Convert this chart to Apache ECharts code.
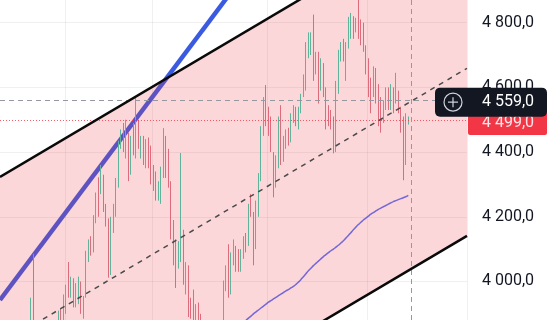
<!DOCTYPE html>
<html>
<head>
<meta charset="utf-8">
<script src="https://cdn.jsdelivr.net/npm/echarts@6/dist/echarts.min.js"></script>
<style>
html,body{margin:0;padding:0;background:#fff;}
#main{width:550px;height:320px;}
</style>
</head>
<body>
<div id="main"></div>
<script>
// ---- data ----
const slotCount = 187;
const categories = Array.from({length: slotCount}, (_, i) => String(i));
const gridCats = [26, 61, 107, 147];
const yTicks = [4000, 4200, 4400, 4600, 4800];
const yMin = 3881, yMax = 4870;

// [open, close, low, high]
const candles = [
[3800,3820,3790,3830],[3820,3810,3795,3835],[3810,3840,3800,3850],[3840,3825,3815,3855],
[3825,3850,3820,3860],[3850,3830,3820,3865],[3830,3800,3790,3840],[3800,3780,3770,3815],
[3780,3805,3775,3815],[3805,3790,3780,3820],[3790,3820,3785,3830],[3820,3840,3810,3850],
[3840,3940,3820,3950],[3940,3860,3850,4086],[3860,3820,3810,3870],[3820,3800,3790,3830],
[3800,3830,3790,3840],[3830,3810,3800,3845],[3810,3790,3780,3820],[3790,3815,3785,3825],
[3815,3835,3805,3845],[3835,3820,3810,3850],[3820,3845,3815,3860],[3840,3900,3830,3910],
[3900,3870,3860,3915],[3870,3940,3860,3960],[3910,3975,3900,3990],[4030,3965,3950,4060],
[3965,4000,3950,4015],[4000,3940,3920,4010],[3930,3985,3920,3995],[3945,4000,3930,4015],
[3990,3930,3900,4000],[3900,3950,3885,3955],[3960,4085,3950,4095],[4080,4120,4060,4130],
[4120,4090,4080,4140],[4100,4190,4090,4205],[4190,4250,4180,4275],[4310,4215,4200,4322],
[4280,4350,4270,4360],[4320,4225,4215,4330],[4225,4180,4170,4240],[4185,4030,4012,4195],
[4030,4180,4020,4200],[4170,4220,4150,4240],[4210,4300,4200,4320],[4300,4420,4290,4435],
[4420,4460,4410,4470],[4490,4420,4400,4490],[4420,4470,4380,4500],[4440,4330,4310,4460],
[4340,4440,4330,4450],[4480,4400,4390,4490],[4400,4500,4380,4571],[4490,4420,4410,4500],
[4400,4440,4380,4450],[4440,4370,4360,4450],[4370,4430,4350,4440],[4430,4390,4350,4445],
[4410,4320,4300,4420],[4350,4300,4280,4360],[4330,4260,4250,4340],[4260,4300,4250,4310],
[4300,4345,4240,4355],[4330,4450,4320,4474],[4440,4340,4320,4450],[4400,4300,4290,4410],
[4300,4140,4130,4310],[4180,4060,4050,4190],[4120,4000,3980,4130],[4050,4110,4040,4125],
[4075,4230,4060,4397],[4150,4010,3990,4160],[3990,4050,3960,4060],[4040,3910,3890,4050],
[3940,3900,3885,3950],[3960,3895,3880,3975],[3890,3920,3870,3930],[3925,3885,3875,3935],
[3890,3850,3840,3900],[3850,3820,3810,3865],[3820,3790,3780,3830],[3790,3760,3750,3800],
[3760,3780,3740,3790],[3780,3750,3740,3795],[3750,3790,3745,3800],[3790,3820,3780,3830],
[3820,3850,3810,3860],[3860,3990,3850,4003],[3990,4040,3970,4050],[4090,3970,3950,4115],
[3980,4080,3960,4090],[4060,4110,4050,4130],[4100,4050,4030,4110],[4090,4040,4030,4100],
[4045,4090,4030,4100],[4080,4130,4070,4140],[4140,4100,4090,4150],[4120,4230,4110,4240],
[4260,4210,4200,4270],[4210,4100,4050,4215],[4110,4230,4100,4250],[4220,4320,4200,4335],
[4320,4470,4310,4480],[4460,4550,4450,4570],[4560,4490,4480,4607],[4520,4460,4450,4540],
[4500,4410,4400,4510],[4380,4290,4260,4400],[4300,4380,4290,4390],[4370,4500,4350,4510],
[4520,4370,4360,4545],[4380,4440,4370,4450],[4420,4460,4410,4470],[4460,4430,4420,4475],
[4440,4510,4430,4520],[4500,4530,4490,4545],[4530,4490,4480,4540],[4490,4530,4470,4540],
[4530,4570,4520,4580],[4580,4630,4570,4640],[4600,4720,4590,4740],[4700,4760,4690,4770],
[4740,4760,4700,4770],[4820,4640,4620,4825],[4650,4700,4640,4710],[4700,4560,4550,4710],
[4600,4680,4590,4690],[4660,4580,4570,4675],[4590,4480,4470,4600],[4530,4490,4480,4545],
[4520,4480,4470,4530],[4500,4400,4396,4510],[4420,4600,4400,4620],[4590,4700,4580,4716],
[4690,4720,4680,4740],[4740,4700,4680,4750],[4640,4730,4620,4740],[4730,4800,4720,4818],
[4760,4810,4750,4830],[4810,4770,4750,4820],[4780,4800,4770,4815],[4830,4760,4750,4870],
[4800,4740,4730,4810],[4790,4730,4710,4800],[4720,4660,4640,4730],[4680,4580,4570,4690],
[4620,4530,4520,4630],[4580,4650,4570,4665],[4650,4570,4550,4660],[4600,4490,4480,4610],
[4560,4470,4460,4570],[4500,4550,4490,4560],[4550,4590,4530,4600],[4580,4540,4530,4600],
[4540,4600,4530,4610],[4590,4540,4520,4600],[4560,4630,4550,4645],[4580,4530,4520,4590],
[4530,4470,4460,4540],[4500,4400,4313,4510],[4380,4500,4360,4520],[4490,4499,4485,4510]
];

// moving average, starting at slot maStart
const maStart = 93;
const maValues = [
3840,3848,3856,3864,3872,3880,3887,3893,3900,3906,3912,3918,3924,3930,3936,3941,
3946,3951,3956,3961,3966,3971,3975,3980,3985,3991,3998,4006,4015,4024,4033,4041,
4049,4056,4063,4070,4077,4083,4089,4095,4100,4106,4112,4119,4126,4134,4142,4151,
4160,4168,4176,4183,4190,4196,4202,4208,4213,4218,4223,4227,4231,4235,4239,4243,
4247,4250,4253,4256,4259,4262,4266
];

// drawn lines: [slot position, price]
const channelUpper = [[-0.5, 4323], [186.5, 5177]];
const channelMid   = [[-0.5, 3805], [186.5, 4659]];
const channelLower = [[-0.5, 3287], [186.5, 4141]];
const trendLine    = [[-0.5, 3943], [110, 5079]];

const crossPrice = 4559;
const lastPrice = 4499;
const crossSlot = '164';

// ---- chart ----
const fmt = v => { const s = String(Math.round(v)); return s.slice(0, -3) + ' ' + s.slice(-3) + ',0'; };
const chart = echarts.init(document.getElementById('main'), null, {renderer: 'canvas'});
const maSeries = Array(maStart).fill('-').concat(maValues);

chart.setOption({
  animation: false,
  backgroundColor: '#ffffff',
  textStyle: {fontFamily: 'Roboto'},
  grid: {left: 0, right: 83, top: 0, bottom: 0, containLabel: false, outerBoundsMode: 'none'},
  xAxis: [
    {type: 'category', data: categories, boundaryGap: true,
     axisLine: {show: false}, axisTick: {show: false}, axisLabel: {show: false},
     splitLine: {show: true, interval: (i) => gridCats.includes(i), lineStyle: {color: 'rgba(0,0,0,0.06)', width: 1}}},
    {type: 'value', min: -0.5, max: slotCount - 0.5, show: false}
  ],
  yAxis: {
    type: 'value', position: 'right', min: yMin, max: yMax, scale: true,
    axisLine: {show: false},
    axisTick: {show: false, customValues: yTicks},
    axisLabel: {customValues: yTicks, formatter: fmt, color: '#131722', fontSize: 16, margin: 15, fontFamily: 'Roboto'},
    splitLine: {show: true, lineStyle: {color: 'rgba(0,0,0,0.06)', width: 1}}
  },
  series: [
    {type: 'line', name: 'trend', xAxisIndex: 1, data: trendLine, showSymbol: false, z: 1,
     lineStyle: {color: '#3a5be0', width: 4.5}, silent: true},
    {type: 'custom', name: 'channelFill', xAxisIndex: 1, yAxisIndex: 0, z: 2, silent: true,
     data: [[0, 0]],
     renderItem: (params, api) => {
       const pts = [
         api.coord(channelUpper[0]), api.coord(channelUpper[1]),
         api.coord(channelLower[1]), api.coord(channelLower[0])
       ];
       const cs = params.coordSys;
       return {
         type: 'polygon', shape: {points: pts},
         style: {fill: 'rgba(242,54,69,0.2)'},
         clipPath: {type: 'rect', shape: {x: cs.x, y: cs.y, width: cs.width, height: cs.height}}
       };
     }},
    {type: 'candlestick', name: 'price', data: candles, z: 3, barWidth: 1, silent: true,
     itemStyle: {color: '#5fb39b', color0: '#dd6b7b', borderColor: '#5fb39b', borderColor0: '#dd6b7b', borderWidth: 1},
     markLine: {silent: true, symbol: 'none', label: {show: false}, animation: false,
       data: [
         {yAxis: crossPrice, lineStyle: {color: '#9598a1', type: [5, 4], width: 1}},
         {yAxis: lastPrice, lineStyle: {color: '#f23645', type: [1, 2], width: 1, opacity: 0.8}},
         {xAxis: crossSlot, lineStyle: {color: '#9598a1', type: [5, 4], width: 1}}
       ]}},
    {type: 'line', name: 'ma', data: maSeries, showSymbol: false, z: 4, smooth: true,
     lineStyle: {color: '#7467d6', width: 1.5}, silent: true},
    {type: 'line', name: 'chUpper', xAxisIndex: 1, data: channelUpper, showSymbol: false, z: 5,
     lineStyle: {color: '#0a0a0a', width: 2.5}, silent: true},
    {type: 'line', name: 'chLower', xAxisIndex: 1, data: channelLower, showSymbol: false, z: 5,
     lineStyle: {color: '#0a0a0a', width: 2.5}, silent: true},
    {type: 'line', name: 'chMid', xAxisIndex: 1, data: channelMid, showSymbol: false, z: 5,
     lineStyle: {color: '#4a4a4a', width: 1.5, type: [5, 5]}, silent: true}
  ]
});

// price tags placed through the axis scale
const yCross = chart.convertToPixel({yAxisIndex: 0}, crossPrice);
const yLast = chart.convertToPixel({yAxisIndex: 0}, lastPrice);
const labelX = 482;
chart.setOption({
  graphic: [
    {type: 'rect', z: 100, shape: {x: 468, y: yLast - 10, width: 79, height: 25, r: 2}, style: {fill: '#f23645'}},
    {type: 'text', z: 101, x: labelX, y: yLast + 2.5, style: {text: fmt(lastPrice), fill: '#fde4e7', font: '16px Roboto', textVerticalAlign: 'middle'}},
    {type: 'rect', z: 102, shape: {x: 435, y: yCross - 13, width: 112, height: 29, r: 5}, style: {fill: '#131722'}},
    {type: 'circle', z: 103, shape: {cx: 453, cy: yCross + 1.5, r: 9}, style: {fill: 'none', stroke: '#d1d4dc', lineWidth: 1.2}},
    {type: 'line', z: 103, shape: {x1: 448, y1: yCross + 1.5, x2: 458, y2: yCross + 1.5}, style: {stroke: '#d1d4dc', lineWidth: 1.2}},
    {type: 'line', z: 103, shape: {x1: 453, y1: yCross - 3.5, x2: 453, y2: yCross + 6.5}, style: {stroke: '#d1d4dc', lineWidth: 1.2}},
    {type: 'text', z: 104, x: labelX, y: yCross + 1.5, style: {text: fmt(crossPrice), fill: '#ffffff', font: '16px Roboto', textVerticalAlign: 'middle'}}
  ]
});
</script>
</body>
</html>
